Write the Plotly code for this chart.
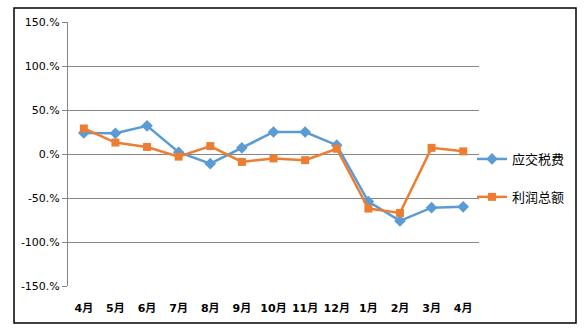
import plotly.graph_objects as go

months = ["4月", "5月", "6月", "7月", "8月", "9月", "10月", "11月", "12月", "1月", "2月", "3月", "4月"]
tax = [24, 23.5, 32, 2, -11, 7, 25, 25, 10, -54, -76, -61, -60]
profit = [29, 13, 8, -3, 9, -9, -5, -7, 6, -62, -67, 7, 3]
yticks = [150, 100, 50, 0, -50, -100, -150]
yticklabels = ["150.%", "100.%", "50.%", "0.%", "-50.%", "-100.%", "-150.%"]

xs = list(range(len(months)))

fig = go.Figure()
fig.add_trace(go.Scatter(
    x=xs, y=tax, name="应交税费", mode="lines+markers",
    line=dict(color="#5B9BD5", width=2.5),
    marker=dict(symbol="diamond", size=9, color="#5B9BD5"),
    legendgroup="a"))
fig.add_trace(go.Scatter(
    x=xs, y=profit, name="利润总额", mode="lines+markers",
    line=dict(color="#ED7D31", width=2.5),
    marker=dict(symbol="square", size=8, color="#ED7D31"),
    legendgroup="b"))

L, R, T, B = 68, 109, 22, 48
W, H = 588, 334
pw, ph = W - L - R, H - T - B

fig.update_layout(
    width=W, height=H,
    margin=dict(l=L, r=R, t=T, b=B),
    paper_bgcolor="white", plot_bgcolor="white",
    font=dict(family="DejaVu Sans, Noto Sans CJK SC", size=11, color="#000000"),
    showlegend=True,
    legend=dict(x=(472 - L) / pw, xanchor="left", y=(286 - 178) / ph,
                yanchor="middle", itemwidth=30, tracegroupgap=18,
                font=dict(family="Noto Sans CJK SC", size=13, color="#000000"),
                bgcolor="rgba(0,0,0,0)"),
    xaxis=dict(range=[-0.5, len(months) - 0.5], tickvals=xs,
               ticktext=["<b>%s</b>" % m for m in months],
               showgrid=False, zeroline=False, showline=False, ticks="",
               ticklabelstandoff=14,
               tickfont=dict(family="DejaVu Sans, Noto Sans CJK SC", size=11)),
    yaxis=dict(range=[-150, 150], tickvals=yticks, ticktext=yticklabels,
               showgrid=True, gridcolor="#868686", gridwidth=1,
               zeroline=False, showline=True, linecolor="#868686", linewidth=1,
               ticks="outside", ticklen=5, tickcolor="#868686",
               tickfont=dict(size=11)),
)

fig.add_shape(type="rect", xref="paper", yref="paper",
              x0=(14 - L) / pw, x1=(576 - L) / pw,
              y0=(286 - 323) / ph, y1=(286 - 8) / ph,
              line=dict(color="black", width=1.5), fillcolor="rgba(0,0,0,0)")

fig.write_html("out.html")
